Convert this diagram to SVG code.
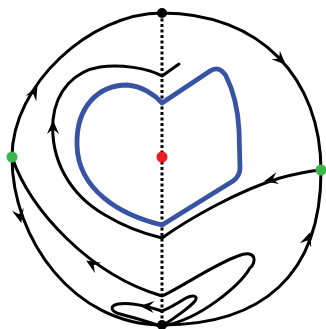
<svg xmlns="http://www.w3.org/2000/svg" width="326" height="329" viewBox="0 0 326 329">
<defs>
<style>
.c{fill:none;stroke:#000;stroke-width:3;stroke-linejoin:round;stroke-linecap:round}
.b{fill:none;stroke:#3953a4;stroke-width:4.8;stroke-linejoin:round}
.d{fill:none;stroke:#000;stroke-width:3;stroke-dasharray:3 2.5}
.ah{fill:#000}
</style>
<path id="arr" d="M1,0 L-13,-6 L-8,0 L-13,6 Z"/>
</defs>
<rect width="326" height="329" fill="#fff"/>
<g id="connectors">
<line id="axis" class="d" x1="162" y1="13" x2="162" y2="325"/>
<path id="outer-tl" class="c" d="M12,157 C12,85 90,13 162,13"/>
<path id="outer-tr" class="c" d="M162,13 C260,13 321,78 321,171"/>
<path id="outer-br" class="c" d="M321,171 C321,275 262,325 162,325"/>
<path id="outer-bl" class="c" d="M162,325 C75,325 12,240 12,157"/>
<path id="spiral" class="c" d="M179,64 L162,76 C148,68 120,64 100,67 C75,71 56,90 53,120 C50,160 70,195 105,215 C125,227 145,234 162,238 C190,218 240,190 280,178 C295,174 310,171 321,170"/>
<path id="bigloop" class="c" d="M12,157 C30,210 90,275 162,296 C180,288 215,264 238,256 C258,248 256,264 250,268 C240,285 200,320 162,326"/>
<path id="smallloops" class="c" d="M162,326 C175,318 191,306 195,301 C199,295 192,295 186,298 C178,303 170,308 162,311 C150,307 130,302 118,304 C108,306 112,312 120,314 C135,318 150,322 162,327"/>
<g id="arrowheads" class="ah">
<use href="#arr" transform="translate(37,87) rotate(-62)"/>
<use href="#arr" transform="translate(285,64) rotate(44)"/>
<use href="#arr" transform="translate(310,233) rotate(-70)"/>
<use href="#arr" transform="translate(21,222) rotate(76)"/>
<use href="#arr" transform="translate(53,121) rotate(-90)"/>
<use href="#arr" transform="translate(265,181) rotate(167)"/>
<use href="#arr" transform="translate(87,261) rotate(-148)"/>
<use href="#arr" transform="translate(141,306) rotate(184)"/>
</g>
</g>
<g id="cycle">
<path class="b" d="M162,103 L210,71 Q219,65 226,76 C234,92 238,110 239,130 L240,168 Q240,176 233,181 L162,225 C120,215 78,190 77,145 C76,105 100,85 127,85 C142,86 155,95 162,103 Z"/>
</g>
<g id="node-top"><circle cx="162" cy="13" r="5" fill="#000"/></g>
<g id="node-bottom"><circle cx="162" cy="325" r="5" fill="#000"/></g>
<g id="node-center"><circle cx="162" cy="157" r="5.5" fill="#ed1c24"/></g>
<g id="node-left"><circle cx="12" cy="157" r="5.5" fill="#3cb54a"/></g>
<g id="node-right"><circle cx="321" cy="170" r="5.5" fill="#3cb54a"/></g>
</svg>
